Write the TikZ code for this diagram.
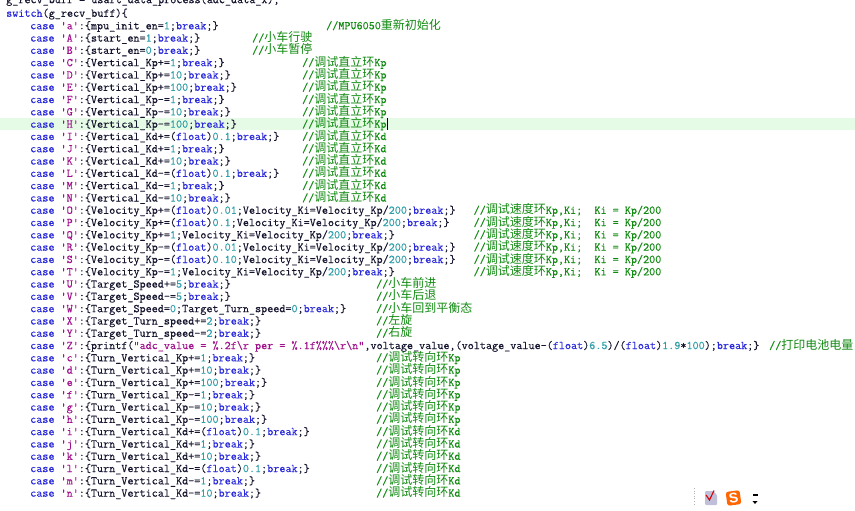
\documentclass[tikz,border=0pt]{standalone}
\usepackage{fontspec}
\setmonofont{Latin Modern Mono}[FakeBold=0.25]
\newfontfamily\cjk{Noto Sans CJK SC}
\newfontfamily\logofont{Liberation Sans}
\definecolor{kwblue}{HTML}{2A2ADB}
\definecolor{chpurple}{HTML}{A0108C}
\definecolor{numteal}{HTML}{2E9EA8}
\definecolor{cmgreen}{HTML}{108A10}
\definecolor{codeink}{HTML}{14142E}
\definecolor{rowgreen}{HTML}{E6FBE6}
\newcommand{\kw}[1]{\textcolor{kwblue}{#1}}
\newcommand{\ch}[1]{\textcolor{chpurple}{'#1'}}
\newcommand{\nm}[1]{\textcolor{numteal}{#1}}
\newcommand{\zh}[1]{{\cjk\fontsize{12}{12}\selectfont #1}}
\newcommand{\brk}{\kw{break};\}}
\newcommand{\flt}{(\kw{float})}
\newcommand{\velki}{;Velocity\_Ki=Velocity\_Kp/\nm{200};}
\newcommand{\kpki}{//\zh{调试速度环}Kp,Ki;\ \ Ki = Kp/200}
\begin{document}
\begin{tikzpicture}
	[x=1pt,y=-1pt,
	code/.style={anchor=west,inner sep=0pt,yshift=-.8pt,text height=8pt,text depth=2pt,text=codeink,font=\ttfamily\fontsize{11.8}{12}\selectfont},
	note/.style={code,text=cmgreen}
	]
	\useasboundingbox (0,0) rectangle (855,511);
	\fill[rowgreen] (0,117.7) rectangle (855,130);
	\node[code] (top) at (6,-.6) {g\_recv\_buff = usart\_data\_process(adc\_data\_x);};
	\node[code] (switch) at (6,13) {\kw{switch}(g\_recv\_buff)\{};
	% straight and start keys
	\node[code] (a) at (30,25.5) {\kw{case} \ch{a}:\{mpu\_init\_en=\nm{1};\brk};
	\node[code] (A) at (30,37.8) {\kw{case} \ch{A}:\{start\_en=\nm{1};\brk};
	\node[code] (B) at (30,50.1) {\kw{case} \ch{B}:\{start\_en=\nm{0};\brk};
	\node[code] (C) at (30,62.4) {\kw{case} \ch{C}:\{Vertical\_Kp+=\nm{1};\brk};
	\node[code] (D) at (30,74.7) {\kw{case} \ch{D}:\{Vertical\_Kp+=\nm{10};\brk};
	\node[code] (E) at (30,87) {\kw{case} \ch{E}:\{Vertical\_Kp+=\nm{100};\brk};
	\node[code] (F) at (30,99.3) {\kw{case} \ch{F}:\{Vertical\_Kp-=\nm{1};\brk};
	\node[code] (G) at (30,111.6) {\kw{case} \ch{G}:\{Vertical\_Kp-=\nm{10};\brk};
	\node[code] (H) at (30,123.9) {\kw{case} \ch{H}:\{Vertical\_Kp-=\nm{100};\brk};
	\node[code] (I) at (30,136.2) {\kw{case} \ch{I}:\{Vertical\_Kd+=\flt\nm{0.1};\brk};
	\node[code] (J) at (30,148.5) {\kw{case} \ch{J}:\{Vertical\_Kd+=\nm{1};\brk};
	\node[code] (K) at (30,160.8) {\kw{case} \ch{K}:\{Vertical\_Kd+=\nm{10};\brk};
	\node[code] (L) at (30,173.1) {\kw{case} \ch{L}:\{Vertical\_Kd-=\flt\nm{0.1};\brk};
	\node[code] (M) at (30,185.4) {\kw{case} \ch{M}:\{Vertical\_Kd-=\nm{1};\brk};
	\node[code] (N) at (30,197.7) {\kw{case} \ch{N}:\{Vertical\_Kd-=\nm{10};\brk};
	% velocity keys
	\node[code] (O) at (30,210) {\kw{case} \ch{O}:\{Velocity\_Kp+=\flt\nm{0.01}\velki\brk};
	\node[code] (P) at (30,222.3) {\kw{case} \ch{P}:\{Velocity\_Kp+=\flt\nm{0.1}\velki\brk};
	\node[code] (Q) at (30,234.6) {\kw{case} \ch{Q}:\{Velocity\_Kp+=\nm{1}\velki\brk};
	\node[code] (R) at (30,246.9) {\kw{case} \ch{R}:\{Velocity\_Kp-=\flt\nm{0.01}\velki\brk};
	\node[code] (S) at (30,259.2) {\kw{case} \ch{S}:\{Velocity\_Kp-=\flt\nm{0.10}\velki\brk};
	\node[code] (T) at (30,271.5) {\kw{case} \ch{T}:\{Velocity\_Kp-=\nm{1}\velki\brk};
	% target keys
	\node[code] (U) at (30,283.8) {\kw{case} \ch{U}:\{Target\_Speed+=\nm{5};\brk};
	\node[code] (V) at (30,296.1) {\kw{case} \ch{V}:\{Target\_Speed-=\nm{5};\brk};
	\node[code] (W) at (30,308.4) {\kw{case} \ch{W}:\{Target\_Speed=\nm{0};Target\_Turn\_speed=\nm{0};\brk};
	\node[code] (X) at (30,320.7) {\kw{case} \ch{X}:\{Target\_Turn\_speed+=\nm{2};\brk};
	\node[code] (Y) at (30,333) {\kw{case} \ch{Y}:\{Target\_Turn\_speed-=\nm{2};\brk};
	\node[code] (Z) at (30,345.3) {\kw{case} \ch{Z}:\{printf(\textcolor{chpurple}{"adc\_value = \%.2f\textbackslash r per = \%.1f\%\%\%\textbackslash r\textbackslash n"},voltage\_value,(voltage\_value-\flt\nm{6.5})/\flt\nm{1.9}*\nm{100});\brk};
	% turn keys
	\node[code] (c) at (30,357.6) {\kw{case} \ch{c}:\{Turn\_Vertical\_Kp+=\nm{1};\brk};
	\node[code] (d) at (30,369.9) {\kw{case} \ch{d}:\{Turn\_Vertical\_Kp+=\nm{10};\brk};
	\node[code] (e) at (30,382.2) {\kw{case} \ch{e}:\{Turn\_Vertical\_Kp+=\nm{100};\brk};
	\node[code] (f) at (30,394.5) {\kw{case} \ch{f}:\{Turn\_Vertical\_Kp-=\nm{1};\brk};
	\node[code] (g) at (30,406.8) {\kw{case} \ch{g}:\{Turn\_Vertical\_Kp-=\nm{10};\brk};
	\node[code] (h) at (30,419.1) {\kw{case} \ch{h}:\{Turn\_Vertical\_Kp-=\nm{100};\brk};
	\node[code] (i) at (30,431.4) {\kw{case} \ch{i}:\{Turn\_Vertical\_Kd+=\flt\nm{0.1};\brk};
	\node[code] (j) at (30,443.7) {\kw{case} \ch{j}:\{Turn\_Vertical\_Kd+=\nm{1};\brk};
	\node[code] (k) at (30,456) {\kw{case} \ch{k}:\{Turn\_Vertical\_Kd+=\nm{10};\brk};
	\node[code] (l) at (30,468.3) {\kw{case} \ch{l}:\{Turn\_Vertical\_Kd-=\flt\nm{0.1};\brk};
	\node[code] (m) at (30,480.6) {\kw{case} \ch{m}:\{Turn\_Vertical\_Kd-=\nm{1};\brk};
	\node[code] (n) at (30,492.9) {\kw{case} \ch{n}:\{Turn\_Vertical\_Kd-=\nm{10};\brk};
	% comments
	\node[note] (notea) at (326,25.5) {//MPU6050\zh{重新初始化}};
	\node[note] (noteA) at (252,37.8) {//\zh{小车行驶}};
	\node[note] (noteB) at (252,50.1) {//\zh{小车暂停}};
	\foreach \y/\name in {62.4/C,74.7/D,87/E,99.3/F,111.6/G,123.9/H}
		\node[note] (note\name) at (302,\y) {//\zh{调试直立环}Kp};
	\foreach \y/\name in {136.2/I,148.5/J,160.8/K,173.1/L,185.4/M,197.7/N}
		\node[note] (note\name) at (302,\y) {//\zh{调试直立环}Kd};
	\foreach \y/\name in {210/O,222.3/P,234.6/Q,246.9/R,259.2/S,271.5/T}
		\node[note] (note\name) at (473.5,\y) {\kpki};
	\node[note] (noteU) at (376,283.8) {//\zh{小车前进}};
	\node[note] (noteV) at (376,296.1) {//\zh{小车后退}};
	\node[note] (noteW) at (376,308.4) {//\zh{小车回到平衡态}};
	\node[note] (noteX) at (376,320.7) {//\zh{左旋}};
	\node[note] (noteY) at (376,333) {//\zh{右旋}};
	\node[note] (noteZ) at (769,345.3) {//\zh{打印电池电量}};
	\foreach \y/\name in {357.6/c,369.9/d,382.2/e,394.5/f,406.8/g,419.1/h}
		\node[note] (note\name) at (376,\y) {//\zh{调试转向环}Kp};
	\foreach \y/\name in {431.4/i,443.7/j,456/k,468.3/l,480.6/m,492.9/n}
		\node[note] (note\name) at (376,\y) {//\zh{调试转向环}Kd};
	% caret and tray icons
	\draw[black,line width=.8pt] (387,118) -- (387,130);
	\draw[gray!60,line width=1pt,dash pattern=on 1pt off 1.6pt] (694,488) -- (694,506);
	\fill[blue!25!gray!40,rounded corners=1pt] (705,491) -- (713,491) -- (717,495) -- (717,505) -- (705,505) -- cycle;
	\draw[red!85!black,line width=1.1pt] (706,495) -- (709.5,500) -- (714,490.5);
	\node[fill=orange!80!red,text=white,rounded corners=2.5pt,inner sep=0pt,minimum size=14pt,rotate=8,font=\logofont\bfseries\fontsize{14}{14}\selectfont] (sogou) at (733.5,498) {S};
	\fill[black] (752.5,494) rectangle (757.5,495.6);
	\fill[black] (752.5,501) -- (757.5,501) -- (755,504) -- cycle;
\end{tikzpicture}
\end{document}
